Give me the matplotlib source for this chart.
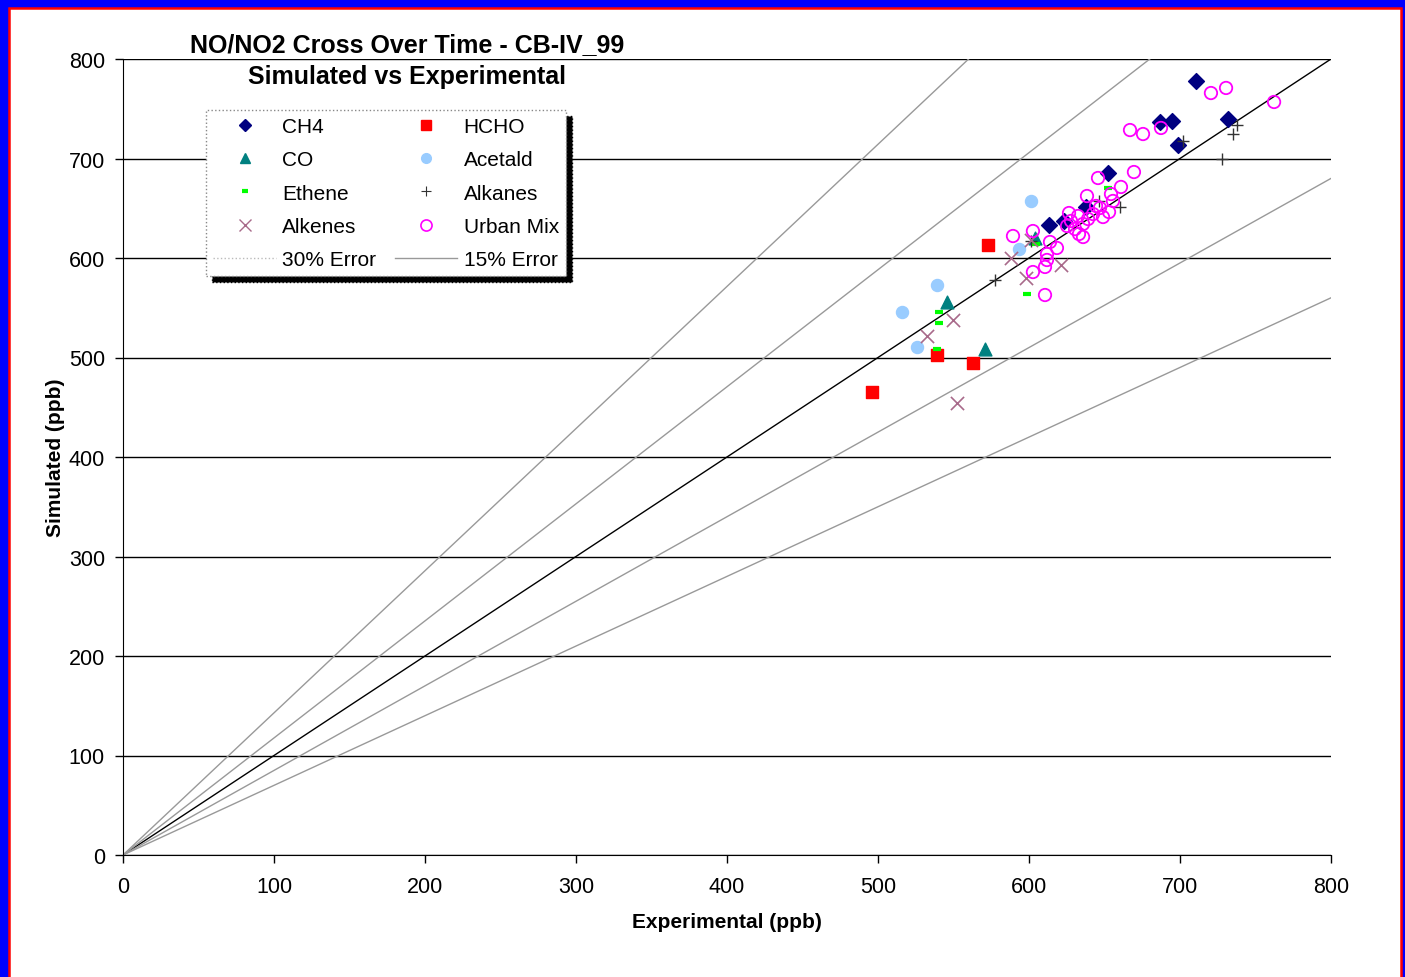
import matplotlib
matplotlib.use('Agg')
import matplotlib.pyplot as plt
from matplotlib.lines import Line2D
from matplotlib.patches import Rectangle
import numpy as np

plt.rcParams['font.family'] = ['Liberation Sans', 'DejaVu Sans']

# experimental vs simulated NO/NO2 cross over time (ppb)
ch4_x = [710.6, 686.8, 694.7, 731.8, 698.7, 652.3, 637.7, 623.2, 613.2]
ch4_y = [778.0, 736.7, 737.7, 739.7, 713.6, 685.4, 651.3, 637.2, 633.2]

hcho_x = [496.0, 539.0, 563.0, 572.8]
hcho_y = [465.3, 502.5, 494.5, 613.0]

co_x = [545.7, 570.9, 604.0]
co_y = [555.8, 508.5, 620.0]

acetald_x = [539.0, 515.9, 525.8, 601.3, 593.4]
acetald_y = [572.9, 545.7, 510.6, 657.3, 609.0]

ethene_x = [540.4, 540.4, 539.0, 598.7, 604.6, 652.3]
ethene_y = [545.7, 534.7, 508.5, 563.8, 614.0, 670.4]

alkanes_x = [577.5, 601.3, 646.4, 660.3, 702.0, 737.7, 735.0, 727.8]
alkanes_y = [578.0, 617.0, 657.3, 651.3, 717.6, 733.7, 724.6, 699.5]

alkenes_x = [549.7, 532.5, 552.3, 588.0, 598.0, 621.0, 601.3]
alkenes_y = [537.7, 521.6, 454.3, 600.0, 580.0, 593.0, 618.0]

urban_x = [720.5, 730.5, 762.3, 666.9, 675.5, 687.4, 669.5, 660.9, 645.7, 638.4,
           654.3, 655.6, 653.0, 644.4, 642.4, 635.8, 632.5, 627.8, 625.2, 630.5,
           633.1, 635.8, 639.1, 649.0, 647.0, 626.5, 589.4, 602.6, 613.9, 618.5,
           611.9, 611.9, 610.6, 602.6, 610.6]
urban_y = [765.8, 770.9, 756.8, 728.6, 724.6, 730.7, 686.4, 671.4, 680.4, 662.3,
           664.3, 657.3, 646.2, 652.3, 644.2, 634.2, 642.2, 637.2, 632.2, 629.1,
           624.1, 621.1, 639.2, 641.2, 650.3, 645.2, 622.1, 627.1, 616.1, 610.1,
           604.0, 598.0, 591.0, 585.9, 562.8]

fig = plt.figure(figsize=(14.05, 9.78), dpi=100)
fig.patch.set_facecolor('#0000ff')
frame = Rectangle((8.75 / 1405, -0.05), (1400.7 - 8.75) / 1405, 1.05 - 8.75 / 978,
                  transform=fig.transFigure, facecolor='white', edgecolor='#ff0000',
                  lw=1.8, zorder=-1)
fig.add_artist(frame)

ax = fig.add_axes([123 / 1405, 1 - 856 / 978, 1208 / 1405, 796 / 978])

# 1:1 line and error bands
xx = np.array([0, 800])
ax.plot(xx, xx, color='black', lw=1, zorder=2)
for f in (0.85, 1 / 0.85):
    ax.plot(xx, xx * f, color='#999999', lw=1, zorder=2)
for f in (0.7, 1 / 0.7):
    ax.plot(xx, xx * f, color='#999999', lw=1, zorder=2)

ax.scatter(ch4_x, ch4_y, marker='D', s=65, color='#000080', zorder=5, label='CH4')
ax.scatter(hcho_x, hcho_y, marker='s', s=75, color='#ff0000', zorder=5, label='HCHO')
ax.scatter(co_x, co_y, marker='^', s=85, color='#008080', zorder=5, label='CO')
ax.scatter(acetald_x, acetald_y, marker='o', s=75, color='#99ccff', zorder=5, label='Acetald')
ax.scatter(ethene_x, ethene_y, marker='_', s=30, linewidths=3, color='#00ff00', zorder=6,
           label='Ethene')
ax.scatter(alkanes_x, alkanes_y, marker='+', s=70, linewidths=1, color='#333333', zorder=6,
           label='Alkanes')
ax.scatter(alkenes_x, alkenes_y, marker='x', s=90, linewidths=1.2, color='#a86a8a', zorder=6,
           label='Alkenes')
ax.scatter(urban_x, urban_y, marker='o', s=80, facecolors='none', edgecolors='#ff00ff',
           linewidths=1.3, zorder=7, label='Urban Mix')

ax.set_xlim(0, 800)
ax.set_ylim(0, 800)
ax.set_xticks(np.arange(0, 801, 100))
ax.set_yticks(np.arange(0, 801, 100))
ax.yaxis.grid(True, color='black', lw=1)
ax.set_axisbelow(True)
for s in ('top', 'right'):
    ax.spines[s].set_visible(False)
ax.tick_params(labelsize=15.5, length=6, width=1)
ax.tick_params(axis='x', pad=9)
ax.tick_params(axis='y', pad=7)
ax.set_xlabel('Experimental (ppb)', fontsize=15, fontweight='bold', labelpad=11)
ax.set_ylabel('Simulated (ppb)', fontsize=15, fontweight='bold', labelpad=3)

fig.text(407 / 1405, 1 - 45 / 978, 'NO/NO2 Cross Over Time - CB-IV_99', ha='center', va='center',
         fontsize=18, fontweight='bold')
fig.text(407 / 1405, 1 - 77 / 978, 'Simulated vs Experimental', ha='center', va='center',
         fontsize=18, fontweight='bold')

def mk(marker, color, size, **kw):
    return Line2D([], [], linestyle='none', marker=marker, color=color, markersize=size, **kw)

handles = [
    mk('D', '#000080', 6),
    mk('^', '#008080', 7),
    mk('_', '#00ff00', 5, markeredgewidth=3),
    mk('x', '#a86a8a', 8, markeredgewidth=1),
    Line2D([], [], color='#bbbbbb', lw=1, linestyle=':'),
    mk('s', '#ff0000', 7),
    mk('o', '#99ccff', 7),
    mk('+', '#333333', 7, markeredgewidth=0.8),
    mk('o', '#ff00ff', 8, markerfacecolor='none', markeredgewidth=1.2),
    Line2D([], [], color='#999999', lw=1),
]
labels = ['CH4', 'CO', 'Ethene', 'Alkenes', '30% Error',
          'HCHO', 'Acetald', 'Alkanes', 'Urban Mix', '15% Error']
leg = ax.legend(handles, labels, ncol=2, loc='upper left',
                bbox_to_anchor=((206 - 123) / 1208, (856 - 111) / 796),
                fontsize=15, frameon=True, fancybox=False,
                shadow={'color': 'black', 'alpha': 1, 'ox': 4, 'oy': -4},
                handlelength=3.0, handletextpad=0.3, columnspacing=0.9,
                labelspacing=0.68, borderpad=0.35, borderaxespad=0)
leg.get_frame().set_edgecolor('#888888')
leg.get_frame().set_linestyle(':')
leg.get_frame().set_linewidth(1)
leg.set_zorder(10)

fig.savefig('out.png', dpi=100, facecolor=fig.get_facecolor())
